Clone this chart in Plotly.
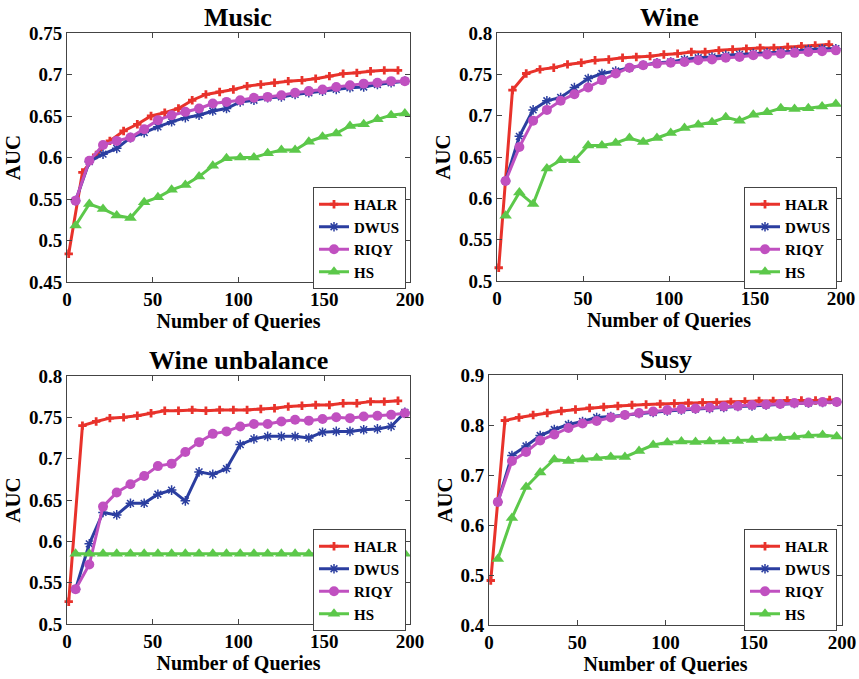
import plotly.graph_objects as go

x_halr = [1 + 8 * i for i in range(25)]
x_other = [5 + 8 * i for i in range(25)]

titles = ["Music", "Wine", "Wine unbalance", "Susy"]

music_halr = [0.484, 0.582, 0.603, 0.620, 0.632, 0.640, 0.650, 0.654, 0.659, 0.669, 0.676, 0.679, 0.682,
              0.686, 0.688, 0.690, 0.692, 0.693, 0.695, 0.698, 0.701, 0.702, 0.704, 0.705, 0.705]
music_dwus = [0.548, 0.595, 0.604, 0.611, 0.624, 0.630, 0.637, 0.643, 0.648, 0.651, 0.656, 0.659, 0.667,
              0.669, 0.672, 0.673, 0.676, 0.678, 0.680, 0.682, 0.684, 0.685, 0.688, 0.690, 0.692]
music_riqy = [0.548, 0.596, 0.615, 0.620, 0.624, 0.634, 0.645, 0.651, 0.655, 0.659, 0.665, 0.667, 0.669,
              0.672, 0.673, 0.675, 0.678, 0.680, 0.682, 0.685, 0.687, 0.689, 0.690, 0.692, 0.692]
music_hs = [0.518, 0.544, 0.538, 0.530, 0.527, 0.546, 0.552, 0.561, 0.567, 0.577, 0.590, 0.599, 0.600,
            0.600, 0.605, 0.609, 0.609, 0.619, 0.625, 0.629, 0.638, 0.640, 0.646, 0.651, 0.653]

wine_halr = [0.516, 0.731, 0.751, 0.756, 0.758, 0.762, 0.764, 0.767, 0.768, 0.770, 0.771, 0.772, 0.774,
             0.775, 0.777, 0.777, 0.779, 0.780, 0.781, 0.782, 0.782, 0.783, 0.784, 0.785, 0.786]
wine_dwus = [0.621, 0.675, 0.707, 0.718, 0.722, 0.734, 0.745, 0.751, 0.754, 0.758, 0.761, 0.764, 0.765,
             0.768, 0.770, 0.771, 0.773, 0.774, 0.775, 0.776, 0.777, 0.778, 0.780, 0.781, 0.781]
wine_riqy = [0.621, 0.662, 0.694, 0.707, 0.718, 0.726, 0.734, 0.743, 0.751, 0.758, 0.761, 0.763, 0.764,
             0.765, 0.767, 0.768, 0.770, 0.771, 0.773, 0.774, 0.775, 0.776, 0.777, 0.778, 0.779]
wine_hs = [0.579, 0.607, 0.593, 0.636, 0.646, 0.646, 0.664, 0.664, 0.667, 0.673, 0.668, 0.673, 0.679,
           0.685, 0.689, 0.692, 0.698, 0.694, 0.701, 0.704, 0.709, 0.708, 0.709, 0.711, 0.714]

wineu_halr = [0.527, 0.740, 0.745, 0.749, 0.750, 0.752, 0.755, 0.758, 0.758, 0.759, 0.758, 0.759, 0.759,
              0.759, 0.760, 0.761, 0.763, 0.764, 0.765, 0.765, 0.767, 0.767, 0.769, 0.769, 0.770]
wineu_dwus = [0.542, 0.597, 0.635, 0.632, 0.646, 0.646, 0.657, 0.662, 0.649, 0.684, 0.681, 0.688, 0.717,
              0.724, 0.727, 0.727, 0.727, 0.725, 0.732, 0.733, 0.733, 0.735, 0.736, 0.739, 0.756]
wineu_riqy = [0.542, 0.572, 0.642, 0.659, 0.669, 0.679, 0.691, 0.694, 0.708, 0.720, 0.730, 0.733, 0.739,
              0.742, 0.742, 0.745, 0.747, 0.746, 0.748, 0.750, 0.749, 0.751, 0.752, 0.753, 0.755]
wineu_hs = [0.585] * 25

susy_halr = [0.489, 0.809, 0.815, 0.820, 0.824, 0.828, 0.831, 0.834, 0.836, 0.838, 0.840, 0.841, 0.842,
             0.843, 0.844, 0.845, 0.845, 0.846, 0.847, 0.848, 0.848, 0.849, 0.849, 0.849, 0.850]
susy_dwus = [0.646, 0.739, 0.758, 0.779, 0.791, 0.801, 0.807, 0.815, 0.817, 0.820, 0.823, 0.825, 0.828,
             0.830, 0.832, 0.833, 0.835, 0.837, 0.838, 0.840, 0.842, 0.843, 0.844, 0.845, 0.846]
susy_riqy = [0.646, 0.728, 0.746, 0.769, 0.781, 0.794, 0.803, 0.808, 0.815, 0.820, 0.824, 0.827, 0.830,
             0.832, 0.833, 0.835, 0.837, 0.838, 0.840, 0.841, 0.842, 0.844, 0.845, 0.846, 0.846]
susy_hs = [0.532, 0.614, 0.676, 0.705, 0.731, 0.728, 0.731, 0.734, 0.736, 0.736, 0.748, 0.760, 0.765,
           0.767, 0.766, 0.767, 0.767, 0.768, 0.770, 0.773, 0.774, 0.776, 0.779, 0.780, 0.777]

panels = [
    (music_halr, music_dwus, music_riqy, music_hs),
    (wine_halr, wine_dwus, wine_riqy, wine_hs),
    (wineu_halr, wineu_dwus, wineu_riqy, wineu_hs),
    (susy_halr, susy_dwus, susy_riqy, susy_hs),
]
y_ranges = [(0.45, 0.75), (0.5, 0.8), (0.5, 0.8), (0.4, 0.9)]
y_dticks = [0.05, 0.05, 0.05, 0.1]

W, H = 859, 679
# plot areas in window pixels: (left, right, top, bottom)
boxes = [(67, 410, 33, 282), (497, 841, 33, 281), (67, 410, 376, 624), (489, 842, 375, 625)]
legend_pos = [(313, 187), (744, 187), (313, 529), (744, 529)]

RED = "#e8322b"
BLUE = "#2b3ea0"
MAG = "#c050c0"
GREEN = "#5cc84a"
FONT = "Liberation Serif, Times New Roman, serif"


def px_x(v):
    return v / W


def px_y(v):
    return 1 - v / H


fig = go.Figure()
for k, (halr, dwus, riqy, hs) in enumerate(panels):
    ax = "" if k == 0 else str(k + 1)
    lg = "legend" if k == 0 else "legend" + str(k + 1)
    common = dict(xaxis="x" + ax, yaxis="y" + ax, legend=lg, mode="lines+markers", cliponaxis=False)
    fig.add_trace(go.Scatter(x=x_halr, y=halr, name="HALR", line=dict(color=RED, width=3),
                             marker=dict(symbol="cross", size=7, color=RED), **common))
    fig.add_trace(go.Scatter(x=x_other, y=dwus, name="DWUS", line=dict(color=BLUE, width=3),
                             marker=dict(symbol="asterisk-open", size=8, color=BLUE,
                                         line=dict(color=BLUE, width=1.5)), **common))
    fig.add_trace(go.Scatter(x=x_other, y=riqy, name="RIQY", line=dict(color=MAG, width=3),
                             marker=dict(symbol="circle", size=10, color=MAG), **common))
    fig.add_trace(go.Scatter(x=x_other, y=hs, name="HS", line=dict(color=GREEN, width=3),
                             marker=dict(symbol="triangle-up", size=11, color=GREEN), **common))

    l, r, t, b = boxes[k]
    xd = [px_x(l), px_x(r)]
    yd = [px_y(b), px_y(t)]
    axis_common = dict(showgrid=False, zeroline=False, showline=True, linecolor="#444", linewidth=1,
                       mirror="ticks", ticks="inside", ticklen=5, tickcolor="#444", automargin=False,
                       tickfont=dict(family=FONT, size=19, color="black", weight="bold"))
    fig.layout["xaxis" + ax] = dict(domain=xd, range=[0, 200], dtick=50, anchor="y" + ax,
                                    title=dict(text="Number of Queries", standoff=1,
                                               font=dict(family=FONT, size=20, color="black", weight="bold")),
                                    **axis_common)
    fig.layout["yaxis" + ax] = dict(domain=yd, range=list(y_ranges[k]), dtick=y_dticks[k], anchor="x" + ax,
                                    title=dict(text="AUC", standoff=2,
                                               font=dict(family=FONT, size=21, color="black", weight="bold")),
                                    **axis_common)
    lx, ly = legend_pos[k]
    fig.layout[lg] = dict(x=px_x(lx), y=px_y(ly), xanchor="left", yanchor="top",
                          bgcolor="white", bordercolor="#444", borderwidth=1,
                          font=dict(family=FONT, size=15, color="black", weight="bold"),
                          itemwidth=30, tracegroupgap=0)
    fig.add_annotation(text=titles[k], x=px_x((l + r) / 2), y=px_y(t - 16), xref="paper", yref="paper",
                       xanchor="center", yanchor="middle",
                       showarrow=False, font=dict(family=FONT, size=26, color="black", weight="bold"))

fig.update_layout(width=W, height=H, margin=dict(l=0, r=0, t=0, b=0, autoexpand=False),
                  plot_bgcolor="white", paper_bgcolor="white")
fig.write_html("out.html", config={"displayModeBar": False},
               post_script="document.body.style.margin='0';document.body.style.overflow='hidden';")
